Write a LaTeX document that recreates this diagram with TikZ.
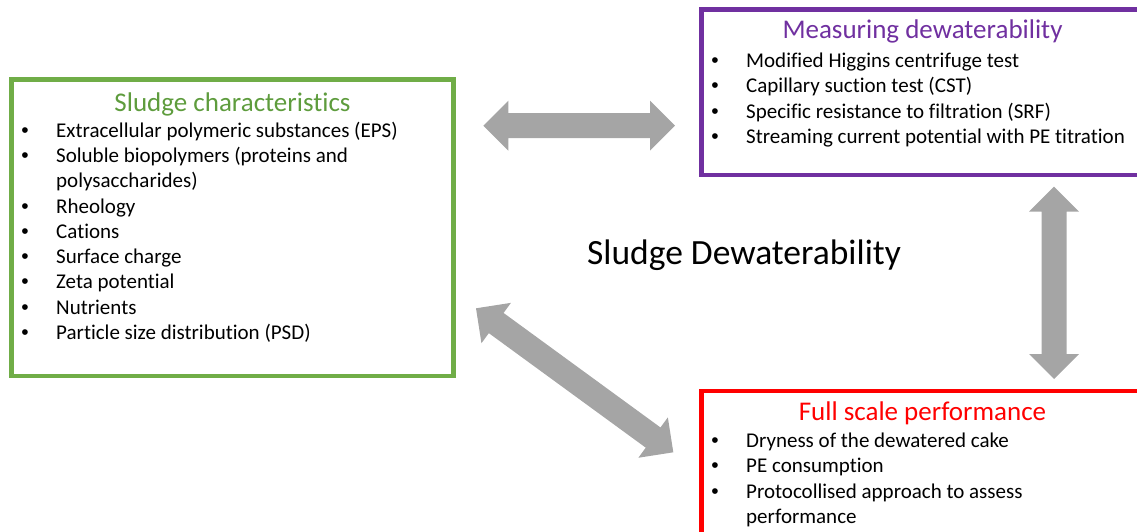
\documentclass[tikz,border=0pt]{standalone}
\usepackage{fontspec}
\setmainfont{Carlito}[Ligatures=NoCommon]
\newfontfamily\bulletfont{Liberation Sans}
\usetikzlibrary{calc}
\definecolor{boxgreen}{HTML}{70AD47}
\definecolor{titlegreen}{HTML}{5E9C3D}
\definecolor{boxpurple}{HTML}{7030A0}
\definecolor{boxred}{HTML}{FF0000}
\definecolor{arrowgray}{HTML}{A5A5A5}
\newcommand{\blockarrow}[2]{%
  \coordinate (#1-h) at ($(#1)!25pt!(#2)$);
  \coordinate (#2-h) at ($(#2)!25pt!(#1)$);
  \fill[arrowgray] (#1) -- ($(#1-h)!25pt!90:(#1)$) -- ($(#1-h)!12.5pt!90:(#1)$)
    -- ($(#2-h)!12.5pt!-90:(#2)$) -- ($(#2-h)!25pt!-90:(#2)$) -- (#2)
    -- ($(#2-h)!25pt!90:(#2)$) -- ($(#2-h)!12.5pt!90:(#2)$)
    -- ($(#1-h)!12.5pt!-90:(#1)$) -- ($(#1-h)!25pt!-90:(#1)$) -- cycle;}
\begin{document}
\begin{tikzpicture}[x=1pt,y=-1pt,
  box/.style={draw, line width=4.5pt, minimum width=442pt, anchor=north west, inner sep=0pt, outer sep=0pt},
  title/.style={font=\fontsize{27}{32}\selectfont, anchor=base, inner sep=0pt},
  item/.style={font=\fontsize{21}{25}\selectfont, anchor=base west, inner sep=0pt},
  bul/.style={font=\bulletfont\fontsize{21}{25}\selectfont, anchor=base, inner sep=0pt}]
\useasboundingbox (0,0) rectangle (1137,532);
\clip (0,0) rectangle (1137,532);
% boxes
\node[box, draw=boxgreen, minimum height=296.5pt] (char) at (11.5,79.5) {};
\node[box, draw=boxpurple, minimum height=165.5pt] (meas) at (701.5,9.5) {};
\node[box, draw=boxred, line width=4.2pt, minimum height=170pt] (perf) at (701.5,391) {};
% titles
\node[title, text=titlegreen] (charT) at (232.5,111.5) {Sludge characteristics};
\node[title, text=boxpurple] (measT) at (922.5,39) {Measuring dewaterability};
\node[title, text=boxred] (perfT) at (922.5,420.7) {Full scale performance};
% sludge characteristics items
\node[bul] (gb1) at (25,137.3) {\textbullet};
\node[item] (g1) at (56,137.3) {Extracellular polymeric substances (EPS)};
\node[bul] (gb2) at (25,162.55) {\textbullet};
\node[item] (g2) at (56,162.55) {Soluble biopolymers (proteins and};
\node[item] (g2b) at (56,187.8) {polysaccharides)};
\node[bul] (gb3) at (25,213.05) {\textbullet};
\node[item] (g3) at (56,213.05) {Rheology};
\node[bul] (gb4) at (25,238.3) {\textbullet};
\node[item] (g4) at (56,238.3) {Cations};
\node[bul] (gb5) at (25,263.55) {\textbullet};
\node[item] (g5) at (56,263.55) {Surface charge};
\node[bul] (gb6) at (25,288.8) {\textbullet};
\node[item] (g6) at (56,288.8) {Zeta potential};
\node[bul] (gb7) at (25,314.05) {\textbullet};
\node[item] (g7) at (56,314.05) {Nutrients};
\node[bul] (gb8) at (25,339.3) {\textbullet};
\node[item] (g8) at (56,339.3) {Particle size distribution (PSD)};
% measuring items
\node[bul] (pb1) at (715,68) {\textbullet};
\node[item] (p1) at (746,68) {Modified Higgins centrifuge test};
\node[bul] (pb2) at (715,93) {\textbullet};
\node[item] (p2) at (746,93) {Capillary suction test (CST)};
\node[bul] (pb3) at (715,118) {\textbullet};
\node[item] (p3) at (746,118) {Specific resistance to filtration (SRF)};
\node[bul] (pb4) at (715,143) {\textbullet};
\node[item] (p4) at (746,143) {Streaming current potential with PE titration};
% full scale items
\node[bul] (rb1) at (715,447.7) {\textbullet};
\node[item] (r1) at (746,447.7) {Dryness of the dewatered cake};
\node[bul] (rb2) at (715,472.9) {\textbullet};
\node[item] (r2) at (746,472.9) {PE consumption};
\node[bul] (rb3) at (715,498.1) {\textbullet};
\node[item] (r3) at (746,498.1) {Protocollised approach to assess};
\node[item] (r3b) at (746,523.3) {performance};
% centre label
\node[font=\fontsize{35.5}{42}\selectfont, anchor=base, inner sep=0pt] (centre) at (744,264.3) {Sludge Dewaterability};
% arrows
\coordinate (hA) at (483.3,125.7);
\coordinate (hB) at (675,125.7);
\coordinate (vA) at (1054,186.7);
\coordinate (vB) at (1054,379);
\coordinate (dA) at (476,308.3);
\coordinate (dB) at (673.3,452.3);
\blockarrow{hA}{hB}
\blockarrow{vA}{vB}
\blockarrow{dA}{dB}
\end{tikzpicture}
\end{document}
